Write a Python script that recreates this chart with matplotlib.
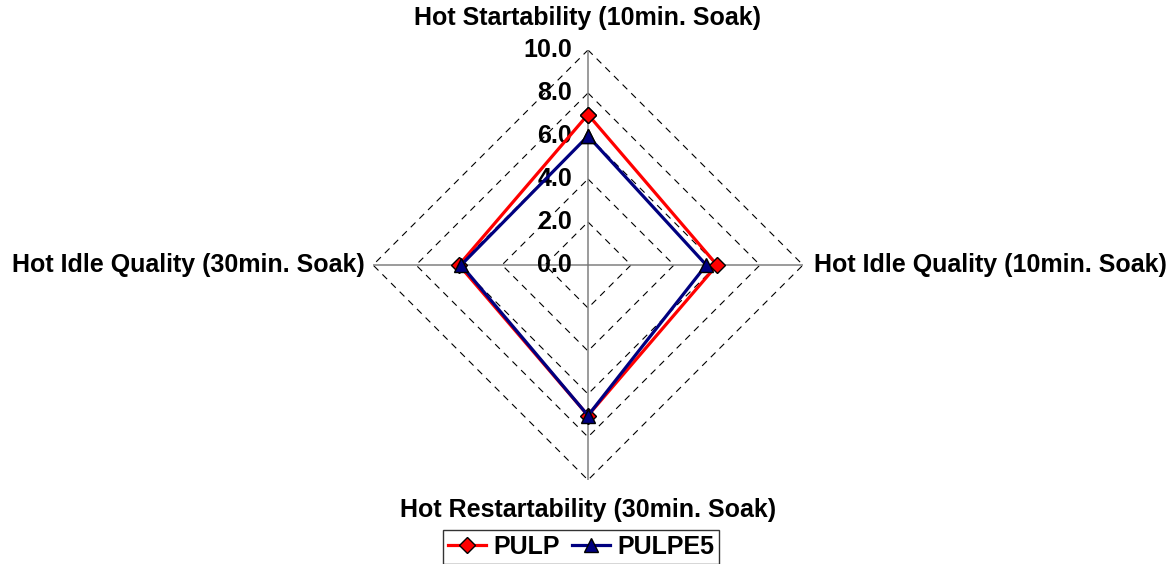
import numpy as np
import matplotlib
matplotlib.use("Agg")
import matplotlib.pyplot as plt

plt.rcParams['font.family'] = ['Liberation Sans', 'DejaVu Sans']
plt.rcParams['font.weight'] = 'bold'

#~~~~~~~~ Data ~~~~~~~~~~~~
categories = ["Hot Startability (10min. Soak)",
              "Hot Idle Quality (10min. Soak)",
              "Hot Restartability (30min. Soak)",
              "Hot Idle Quality (30min. Soak)"]
pulp   = [7.0, 6.0, 7.0, 6.0]
pulpe5 = [6.0, 5.5, 7.0, 5.9]
rticks = [0, 2, 4, 6, 8, 10]
#~~~~~~~~~~~~~~~~~~~~~~~~~~~

# clockwise from the top
ang = np.deg2rad(np.arange(len(categories)) * 360.0 / len(categories))

def to_xy(vals):
    v = np.asarray(vals, float)
    x = v * np.sin(ang)
    y = v * np.cos(ang)
    return np.append(x, x[0]), np.append(y, y[0])

fig = plt.figure(figsize=(11.73, 5.64), dpi=100)
ax = fig.add_axes([373/1173, 1 - 480/564, 430/1173, 430/564])
ax.set_xlim(-10, 10)
ax.set_ylim(-10, 10)
ax.axis('off')

# dashed polygon grid
for r in rticks[1:]:
    gx, gy = to_xy([r] * len(categories))
    ax.plot(gx, gy, color='black', lw=0.8, ls=(0, (6, 5)), zorder=1)

# spokes
for a in ang:
    ax.plot([0, 10 * np.sin(a)], [0, 10 * np.cos(a)], color='#808080', lw=1.1, zorder=2)

# radial tick labels
for r in rticks:
    ax.text(-0.75, r, "%.1f" % r, ha='right', va='center', fontsize=18, fontweight='bold')

x1, y1 = to_xy(pulp)
x2, y2 = to_xy(pulpe5)
ax.plot(x1, y1, color='#FF0000', lw=2.3, marker='D', ms=8, mfc='#FF0000', mec='black',
        mew=1.0, label='PULP', zorder=4)
ax.plot(x2, y2, color='#000080', lw=2.3, marker='^', ms=10, mfc='#000080', mec='black',
        mew=1.0, label='PULPE5', zorder=5)

# category labels
ax.text(0, 10.95, categories[0], ha='center', va='bottom', fontsize=18, fontweight='bold')
ax.text(10.5, 0, categories[1], ha='left', va='center', fontsize=18, fontweight='bold')
ax.text(0, -10.85, categories[2], ha='center', va='top', fontsize=18, fontweight='bold')
ax.text(-10.4, 0, categories[3], ha='right', va='center', fontsize=18, fontweight='bold')

leg = fig.legend(loc='upper center', bbox_to_anchor=(581/1173, 1 - 530/564), ncol=2,
                 fontsize=18, frameon=True, fancybox=False, edgecolor='black',
                 handlelength=1.5, handletextpad=0.3, columnspacing=0.5,
                 borderpad=0.2, borderaxespad=0)
leg.get_frame().set_linewidth(1.0)

fig.savefig('out.png', dpi=100)
